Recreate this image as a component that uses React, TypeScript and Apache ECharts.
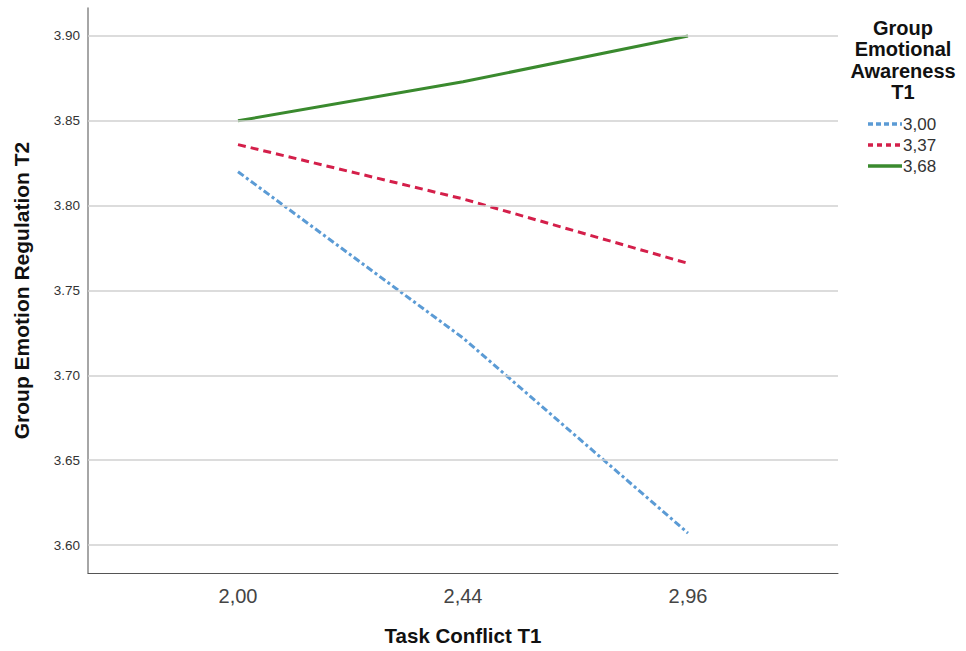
import React, { useEffect, useRef } from "react";
import * as echarts from "echarts";

const categories = ["2,00", "2,44", "2,96"];
const yTicks = [3.6, 3.65, 3.7, 3.75, 3.8, 3.85, 3.9];
const seriesNames = ["3,00", "3,37", "3,68"];
const blueValues = [3.82, 3.722, 3.607];
const redValues = [3.836, 3.804, 3.766];
const greenValues = [3.85, 3.873, 3.9];

const FONT = "'Liberation Sans', Arial, sans-serif";
const COLORS = ["#5b9bd5", "#d41f4a", "#3a8a2e"];
const DASHES: (number[] | null)[] = [[7, 3, 3, 3], [8, 5], null];
const LEGEND_DASHES: (number[] | null)[] = [[5, 3], [5, 4], null];

export default function App() {
  const ref = useRef<HTMLDivElement>(null);
  useEffect(() => {
    if (!ref.current) return;
    const chart = echarts.init(ref.current, null, { renderer: "svg" });
    const toPairs = (vals: number[]) => vals.map((v, i) => [i, v]);
    const idx = categories.map((_, i) => i);
    const allValues = [blueValues, redValues, greenValues];

    const legendGraphics: any[] = [];
    seriesNames.forEach((n, i) => {
      const cy = 124 + i * 21;
      legendGraphics.push({
        type: "line",
        shape: { x1: 868, y1: cy, x2: 902, y2: cy },
        style: {
          stroke: COLORS[i],
          lineWidth: 3.5,
          lineDash: LEGEND_DASHES[i] ?? undefined,
        },
        silent: true,
      });
      legendGraphics.push({
        type: "text",
        x: 903,
        y: cy,
        style: {
          text: n,
          fontFamily: FONT,
          fontSize: 17,
          fill: "#333",
          align: "left",
          verticalAlign: "middle",
        },
        silent: true,
      });
    });

    chart.setOption({
      animation: false,
      backgroundColor: "#ffffff",
      textStyle: { fontFamily: FONT },
      grid: { left: 88, right: 128, top: 8, bottom: 78 },
      xAxis: {
        type: "value",
        min: -2 / 3,
        max: 8 / 3,
        name: "Task Conflict T1",
        nameLocation: "middle",
        nameGap: 52,
        nameTextStyle: { fontFamily: FONT, fontSize: 20.5, fontWeight: "bold", color: "#111" },
        axisLine: { show: true, lineStyle: { color: "#555", width: 1 } },
        axisTick: { show: false, customValues: idx },
        splitLine: { show: false },
        axisLabel: {
          customValues: idx,
          formatter: (v: number) => categories[Math.round(v)] ?? "",
          fontFamily: FONT,
          fontSize: 20,
          color: "#444",
          margin: 13,
        },
      },
      yAxis: {
        type: "value",
        min: 3.5835,
        max: 3.9165,
        name: "Group Emotion Regulation T2",
        nameLocation: "middle",
        nameGap: 56,
        nameTextStyle: { fontFamily: FONT, fontSize: 21, fontWeight: "bold", color: "#111" },
        axisLine: { show: true, onZero: false, lineStyle: { color: "#888", width: 1.5 } },
        axisTick: { show: false, customValues: yTicks },
        splitLine: { show: false },
        axisLabel: {
          customValues: yTicks,
          formatter: (v: number) => v.toFixed(2),
          fontFamily: FONT,
          fontSize: 13.5,
          color: "#333",
          margin: 8,
        },
      },
      graphic: [
        {
          type: "text",
          x: 903,
          y: 17,
          style: {
            text: "Group\nEmotional\nAwareness\nT1",
            fontFamily: FONT,
            fontSize: 20,
            fontWeight: "bold",
            fill: "#111",
            align: "center",
            verticalAlign: "top",
            lineHeight: 21.5,
          },
        },
        ...legendGraphics,
      ],
      series: [
        {
          name: "grid",
          type: "line",
          data: [],
          silent: true,
          markLine: {
            silent: true,
            symbol: "none",
            label: { show: false },
            lineStyle: { color: "#d0d0d0", type: "solid", width: 1.5 },
            data: yTicks.map((v) => ({ yAxis: v })),
          },
        },
        ...seriesNames.map((n, i) => ({
          name: n,
          type: "line",
          data: toPairs(allValues[i]),
          showSymbol: false,
          symbol: "none",
          lineStyle: { color: COLORS[i], width: 3, type: DASHES[i] ?? "solid" },
          itemStyle: { color: COLORS[i] },
        })),
      ],
    });
    return () => chart.dispose();
  }, []);
  return <div ref={ref} style={{ width: 966, height: 651, position: "absolute", left: 0, top: 0 }} />;
}
